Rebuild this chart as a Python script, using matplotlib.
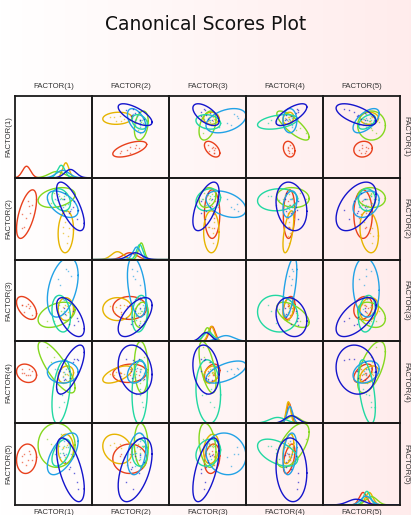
import numpy as np
import matplotlib.pyplot as plt

factors = ["FACTOR(1)", "FACTOR(2)", "FACTOR(3)", "FACTOR(4)", "FACTOR(5)"]
group_colors = ["#e8401c", "#e6b400", "#84d81e", "#22d8a2", "#22a2e6", "#1414cc"]

# group centroids on each factor (column scale, 0..1)
group_means = [
    [0.15, 0.49, 0.56, 0.56, 0.52],
    [0.66, 0.33, 0.55, 0.55, 0.60],
    [0.54, 0.64, 0.50, 0.61, 0.63],
    [0.60, 0.62, 0.51, 0.41, 0.57],
    [0.62, 0.58, 0.74, 0.57, 0.56],
    [0.72, 0.56, 0.48, 0.59, 0.43],
]
# half extent of the 95% ellipse on each factor
group_spreads = [
    [0.13, 0.22, 0.10, 0.075, 0.12],
    [0.10, 0.19, 0.10, 0.07, 0.12],
    [0.24, 0.09, 0.11, 0.21, 0.18],
    [0.12, 0.10, 0.16, 0.26, 0.11],
    [0.20, 0.12, 0.26, 0.09, 0.17],
    [0.18, 0.22, 0.17, 0.20, 0.26],
]
# within-group correlations, pairs (1,2) (1,3) (1,4) (1,5) (2,3) (2,4) (2,5) (3,4) (3,5) (4,5)
pairs = [(0, 1), (0, 2), (0, 3), (0, 4), (1, 2), (1, 3), (1, 4), (2, 3), (2, 4), (3, 4)]
group_corrs = [
    [0.6, -0.5, -0.2, 0.1, 0.0, 0.1, 0.0, 0.3, 0.2, 0.5],
    [0.1, 0.0, 0.2, 0.0, 0.0, 0.6, -0.2, 0.3, 0.2, 0.4],
    [0.3, 0.4, -0.8, 0.0, 0.2, -0.1, -0.1, -0.6, -0.3, 0.6],
    [-0.3, -0.2, 0.4, 0.5, 0.2, 0.1, 0.0, -0.1, 0.2, -0.5],
    [-0.5, 0.4, 0.0, 0.6, -0.4, 0.3, 0.3, 0.6, -0.1, 0.3],
    [-0.7, -0.6, 0.7, -0.6, 0.6, -0.2, 0.5, -0.2, 0.6, -0.1],
]

# case scores, standardised within group
red_scores = [[0.8, -0.5, 1.2, -0.3, 0.6], [-1.1, 0.9, -0.4, 0.7, -0.8], [0.3, 1.4, 0.5, -1.0, 0.2],
              [-0.6, -1.2, -0.9, 0.4, 1.1], [1.3, 0.2, -1.1, 0.9, -0.5], [-0.2, -0.4, 0.7, -0.6, -1.3],
              [0.5, 0.6, 0.1, 1.2, 0.9], [-1.2, -0.8, 0.3, 0.1, 0.4]]
yellow_scores = [[0.4, -1.3, 0.6, 0.8, -0.2], [-0.9, 0.7, -1.0, -0.4, 1.0], [1.1, 0.3, 0.2, 0.5, 0.7],
                 [-0.3, 1.2, 0.9, -1.1, -0.9], [0.7, -0.6, -0.7, 0.2, 1.3], [-1.0, -0.1, 0.4, 1.0, -0.6]]
lime_scores = [[1.2, 0.4, -0.5, -0.9, 0.8], [-0.7, -1.1, 0.9, 0.6, -0.4], [0.2, 0.9, 1.3, -0.2, 1.1],
               [-1.3, 0.1, -0.8, 1.2, -1.0], [0.9, -0.7, 0.1, -1.3, 0.3], [-0.4, 1.3, -1.2, 0.3, -1.2],
               [0.6, -0.2, 0.6, 0.9, 1.4]]
teal_scores = [[-0.5, 0.8, 1.0, -1.2, 0.5], [1.0, -0.9, -0.6, 1.3, -0.8], [0.3, 0.2, -1.2, -0.5, 1.2],
               [-1.1, -0.4, 0.5, 0.8, -0.3], [0.7, 1.1, 0.3, -1.4, -1.0], [-0.2, -1.3, -0.2, 0.2, 0.9]]
lightblue_scores = [[0.9, 0.6, 1.3, -0.4, 0.7], [-0.8, -1.0, 0.8, 0.9, -1.1], [0.2, 1.2, -0.9, 0.3, 1.0],
                    [1.3, -0.3, 0.4, -1.0, -0.5], [-1.2, 0.4, -0.3, 1.2, 0.2], [0.5, -1.2, 1.1, 0.6, 1.3],
                    [-0.4, 0.8, 0.6, -0.8, -0.9], [0.1, -0.5, -1.3, 0.1, 0.4]]
blue_scores = [[1.1, -0.7, 0.9, 0.8, -1.2], [-0.9, 1.0, -0.5, -1.1, 0.9], [0.4, 0.3, 1.3, 0.2, 1.3],
               [-0.3, -1.2, -1.0, 1.3, -0.4], [1.3, 0.8, 0.2, -0.6, -1.0], [-1.2, -0.2, 0.6, -0.3, 0.6],
               [0.6, 1.3, -1.2, 0.5, 0.1], [0.0, -0.6, 0.3, -1.2, 1.1]]
group_scores = [red_scores, yellow_scores, lime_scores, teal_scores, lightblue_scores, blue_scores]

# vertical limits for each factor when it is used as the row variable
row_limits = [(-0.323, 1.028), (0.078, 0.819), (0.268, 0.982), (0.153, 0.82), (0.143, 0.81)]

K95 = 2.45
n = len(factors)


def corr_matrix(g):
    c = np.eye(n)
    for (a, b), r in zip(pairs, group_corrs[g]):
        c[a, b] = c[b, a] = r
    w, v = np.linalg.eigh(c)
    c = v @ np.diag(np.clip(w, 0.05, None)) @ v.T
    d = np.sqrt(np.diag(c))
    return c / np.outer(d, d)


def pair_corr(g, a, b):
    if a > b:
        a, b = b, a
    return group_corrs[g][pairs.index((a, b))]


# case coordinates on each factor
group_points = []
for g in range(len(group_colors)):
    L = np.linalg.cholesky(corr_matrix(g))
    z = np.array(group_scores[g]) @ L.T
    pts = np.array(group_means[g]) + z * np.array(group_spreads[g]) / K95
    group_points.append(pts)

W, H = 411, 515
fig = plt.figure(figsize=(W / 100, H / 100), dpi=100)

# light background wash
bg = fig.add_axes([0, 0, 1, 1])
grad = np.linspace(0, 1, 256)
img = np.ones((2, 256, 3))
img[:, :, 1] = 1 - grad * 0.075
img[:, :, 2] = 1 - grad * 0.075
bg.imshow(img, aspect="auto", extent=(0, 1, 0, 1))
bg.set_axis_off()

left_px, top_px = 15, 96
cw, rh = 77, 81.8
t = np.linspace(0, 2 * np.pi, 200)
xs = np.linspace(0, 1, 300)

for i in range(n):
    for j in range(n):
        ax = fig.add_axes([(left_px + cw * j) / W, 1 - (top_px + rh * (i + 1)) / H, cw / W, rh / H])
        ax.set_facecolor("none")
        ax.set_xlim(0, 1)
        if i == j:
            ax.set_ylim(0, 1)
            for g, col in enumerate(group_colors):
                sd = group_spreads[g][j] / K95
                dens = 0.0075 / sd * np.exp(-0.5 * ((xs - group_means[g][j]) / sd) ** 2)
                ax.plot(xs, dens, color=col, lw=1.0)
        else:
            ax.set_ylim(*row_limits[i])
            for g, col in enumerate(group_colors):
                mx, my = group_means[g][j], group_means[g][i]
                sx, sy = group_spreads[g][j], group_spreads[g][i]
                r = pair_corr(g, i, j)
                ex = mx + sx * np.cos(t)
                ey = my + sy * (r * np.cos(t) + np.sqrt(1 - r * r) * np.sin(t))
                ax.plot(ex, ey, color=col, lw=1.0)
                pts = group_points[g]
                ax.plot(pts[:, j], pts[:, i], ls="none", marker="s", ms=1.0,
                        mec="none", mfc=col, alpha=0.65)
        ax.set_xticks([])
        ax.set_yticks([])
        for sp in ax.spines.values():
            sp.set_linewidth(1.3)
            sp.set_color("#1a1a1a")

lab = dict(fontsize=5.6, color="#333333", family="Liberation Sans", ha="center", va="center")
for k, name in enumerate(factors):
    cx = (left_px + cw * (k + 0.5)) / W
    cy = 1 - (top_px + rh * (k + 0.5)) / H
    fig.text(cx, 1 - 87 / H, name, **lab)
    fig.text(cx, 1 - 513 / H, name, **lab)
    fig.text(8.5 / W, cy, name, rotation=90, **lab)
    fig.text(405.5 / W, cy, name, rotation=270, **lab)

fig.text(0.5, 1 - 25 / H, "Canonical Scores Plot", fontsize=13.5, color="#111111",
         family="DejaVu Sans", ha="center", va="center")

fig.savefig("out.png", dpi=100)
